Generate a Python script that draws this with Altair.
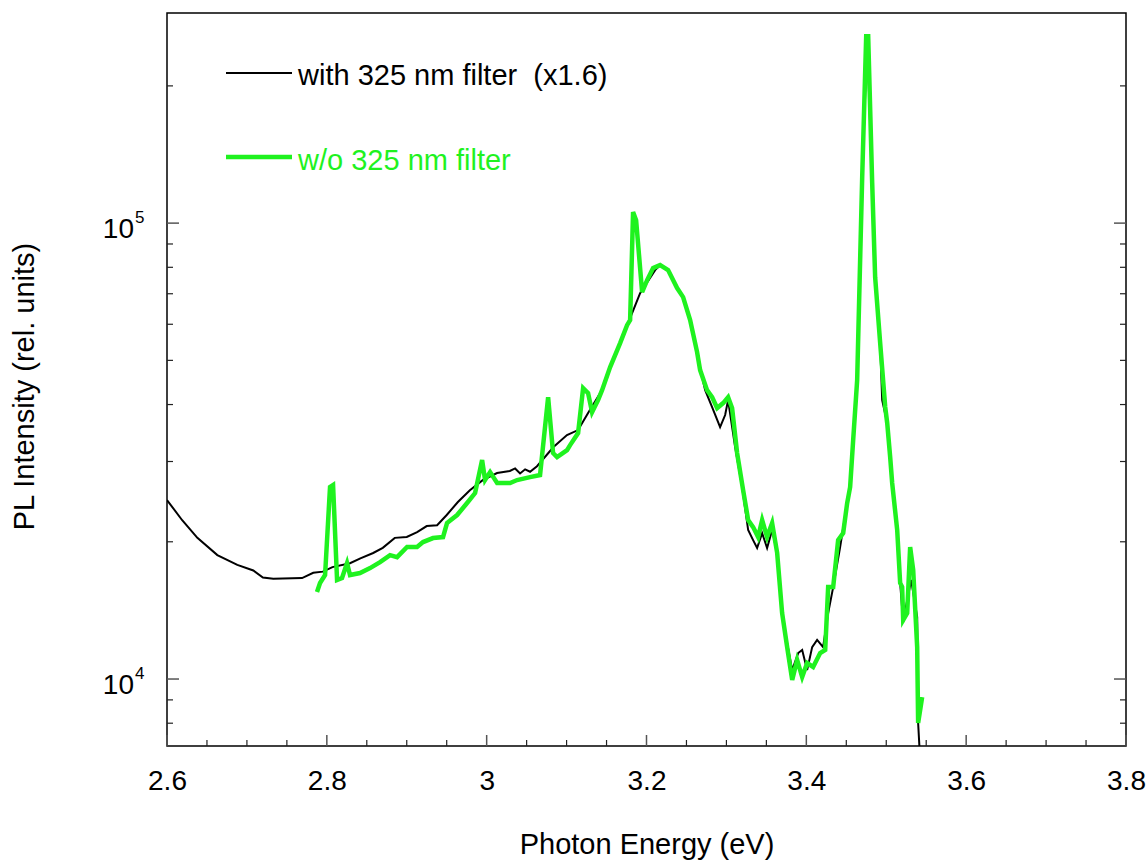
import altair as alt
import pandas as pd

# ---- data ----
black_E = [2.600, 2.619, 2.638, 2.663, 2.688, 2.708, 2.720, 2.733, 2.769, 2.783, 2.795, 2.807,
           2.829, 2.842, 2.858, 2.870, 2.885, 2.900, 2.913, 2.925, 2.938, 2.950, 2.964, 2.979,
           2.995, 3.013, 3.029, 3.0356, 3.0418, 3.0481, 3.0543, 3.063, 3.0836, 3.1005, 3.1144,
           3.1269, 3.1444, 3.1582, 3.1757, 3.1795, 3.1920, 3.2108, 3.2170, 3.2270, 3.2383,
           3.2458, 3.2546, 3.2633, 3.2696, 3.2734, 3.2821, 3.2921, 3.2984, 3.3021, 3.3109,
           3.3197, 3.3272, 3.3334, 3.3384, 3.3447, 3.3509, 3.3572, 3.3635, 3.3697, 3.3760,
           3.3823, 3.3898, 3.3948, 3.4010, 3.4073, 3.4135, 3.4210, 3.4273, 3.4336, 3.4423,
           3.4511, 3.4548, 3.4586, 3.4636, 3.4699, 3.4761, 3.4824, 3.4861, 3.4924, 3.4949,
           3.5012, 3.5074, 3.5137, 3.5174, 3.5212, 3.5262, 3.5312, 3.5387, 3.5399, 3.5424]
black_I = [24700, 22300, 20400, 18700, 17800, 17300, 16700, 16600, 16650, 17100, 17200, 17600,
           17950, 18400, 18900, 19400, 20400, 20500, 21000, 21650, 21750, 22900, 24450, 25950,
           27300, 28300, 28600, 28970, 28250, 28840, 28490, 29300, 32270, 34280, 35160,
           38310, 43020, 50070, 59740, 61900, 70230, 78880, 80900, 78880, 72030,
           68820, 61280, 52130, 45960, 43020, 39500, 35690, 37930, 40900, 32270,
           26370, 21220, 20170, 19380, 20900, 19380, 21220, 18900, 13950, 11990,
           10460, 11400, 11580, 10460, 11750, 12180, 11750, 13950, 15910, 19480,
           24320, 26370, 33430, 45260, 126200, 252000, 122400, 76100, 54560, 40900,
           36420, 26910, 20900, 16240, 13340, 14900, 16490, 13680, 8010, 6650]

green_E = [2.7877, 2.7915, 2.7978, 2.8040, 2.8078, 2.8128, 2.8190, 2.8253, 2.8290, 2.8415,
           2.8541, 2.8666, 2.8791, 2.8879, 2.9004, 2.9129, 2.9204, 2.9329, 2.9454, 2.9504,
           2.9630, 2.9755, 2.9855, 2.9943, 2.9980, 3.0043, 3.0131, 3.0293, 3.0381, 3.0543,
           3.0668, 3.0769, 3.0831, 3.0881, 3.1006, 3.1044, 3.1144, 3.1207, 3.1269, 3.1319,
           3.1394, 3.1444, 3.1545, 3.1670, 3.1757, 3.1795, 3.1832, 3.1870, 3.1945, 3.2008,
           3.2083, 3.2170, 3.2270, 3.2383, 3.2458, 3.2546, 3.2633, 3.2671, 3.2758, 3.2821,
           3.2884, 3.2959, 3.3021, 3.3071, 3.3134, 3.3209, 3.3272, 3.3334, 3.3397, 3.3447,
           3.3509, 3.3572, 3.3635, 3.3697, 3.3760, 3.3823, 3.3885, 3.3948, 3.4010, 3.4085,
           3.4173, 3.4236, 3.4273, 3.4336, 3.4398, 3.4461, 3.4511, 3.4548, 3.4586, 3.4636,
           3.4699, 3.4749, 3.4774, 3.4824, 3.4861, 3.4924, 3.4987, 3.5012, 3.5049, 3.5074,
           3.5137, 3.5174, 3.5199, 3.5212, 3.5262, 3.5299, 3.5337, 3.5387, 3.5399, 3.5424,
           3.5449]
green_I = [15520, 16240, 16910, 26370, 26640, 16490, 16650, 17970, 16910, 17080,
           17510, 18050, 18700, 18510, 19480, 19480, 19970, 20380, 20480, 21980,
           22890, 24320, 25580, 30220, 27320, 28440, 26910, 26910, 27320, 27730,
           28020, 41530, 31300, 30680, 31780, 32590, 34630, 43460, 42380, 38500,
           40900, 43020, 48330, 54560, 59740, 61280, 105700, 101500, 70590, 74990,
           79680, 80900, 78880, 72030, 68820, 61280, 52130, 47600, 43020, 41530,
           39300, 40300, 41530, 39300, 31300, 25970, 22320, 21540, 20480, 22320,
           20480, 21980, 18900, 13950, 11750, 9950, 11010, 10100, 10840, 10630,
           11400, 11580, 15910, 15910, 20170, 20900, 24320, 26370, 33430, 45260,
           126200, 257000, 257000, 122400, 76100, 54560, 39500, 36420, 30680, 26910,
           21220, 16240, 15910, 13470, 13950, 19480, 17340, 11750, 8010, 8550,
           9130]

series_names = ["with 325 nm filter\u00a0\u00a0(x1.6)", "w/o 325 nm filter"]
series_colors = ["#000000", "#1ff21f"]

x_major = [2.6, 2.8, 3.0, 3.2, 3.4, 3.6, 3.8]
x_minor = [2.65, 2.7, 2.75, 2.85, 2.9, 2.95, 3.05, 3.1, 3.15, 3.25, 3.3, 3.35,
           3.45, 3.5, 3.55, 3.65, 3.7, 3.75]
y_major = [1e4, 1e5]
y_minor = [8000, 9000, 20000, 30000, 40000, 50000, 60000, 70000, 80000, 90000, 200000]
y_exp = ["4", "5"]

W, H = 959, 733
FONT = "Liberation Sans"
FS = 29

xscale = alt.Scale(domain=[2.6, 3.8], nice=False, zero=False)
yscale = alt.Scale(type="log", domain=[7130, 289000], nice=False)

df_black = pd.DataFrame({"E": black_E, "I": black_I})
df_green = pd.DataFrame({"E": green_E, "I": green_I})

black_line = alt.Chart(df_black).mark_line(color=series_colors[0], strokeWidth=2, clip=True).encode(
    x=alt.X("E:Q", scale=xscale,
            axis=alt.Axis(values=x_major, format="~g", ticks=False, tickSize=0, domain=False,
                          grid=False, labelFontSize=28, labelFont=FONT, labelColor="black",
                          labelPadding=21, labelFlush=False,
                          title="Photon Energy (eV)", titleFontSize=FS, titleFont=FONT,
                          titleFontWeight="normal", titleColor="black",
                          titleBaseline="alphabetic", titleY=107)),
    y=alt.Y("I:Q", scale=yscale,
            axis=alt.Axis(labels=False, ticks=False, domain=False, grid=False,
                          title="PL Intensity (rel. units)", titleFontSize=FS, titleFont=FONT,
                          titleFontWeight="normal", titleColor="black",
                          titleBaseline="alphabetic", titleX=-134, titleY=373)),
    order="E:Q",
)
green_line = alt.Chart(df_green).mark_line(color=series_colors[1], strokeWidth=4.5, clip=True).encode(
    x=alt.X("E:Q", scale=xscale),
    y=alt.Y("I:Q", scale=yscale),
    order="E:Q",
)

# ticks (inward)
df_xmaj = pd.DataFrame({"E": x_major})
df_xmin = pd.DataFrame({"E": x_minor})
df_ymaj = pd.DataFrame({"I": y_major, "exp": y_exp})
df_ymin = pd.DataFrame({"I": y_minor})

tick_color = "#555555"
xmaj_ticks = alt.Chart(df_xmaj).mark_rule(color=tick_color, strokeWidth=1.5).encode(
    x=alt.X("E:Q", scale=xscale), y=alt.value(H), y2=alt.value(H - 11))
xmin_ticks = alt.Chart(df_xmin).mark_rule(color="#222222", strokeWidth=1.2).encode(
    x=alt.X("E:Q", scale=xscale), y=alt.value(H), y2=alt.value(H - 6))
ymaj_l = alt.Chart(df_ymaj).mark_rule(color=tick_color, strokeWidth=1.5).encode(
    y=alt.Y("I:Q", scale=yscale), x=alt.value(0), x2=alt.value(12))
ymin_l = alt.Chart(df_ymin).mark_rule(color="#222222", strokeWidth=1.2).encode(
    y=alt.Y("I:Q", scale=yscale), x=alt.value(0), x2=alt.value(6))
ymaj_r = alt.Chart(df_ymaj).mark_rule(color=tick_color, strokeWidth=1.5).encode(
    y=alt.Y("I:Q", scale=yscale), x=alt.value(W - 12), x2=alt.value(W))
ymin_r = alt.Chart(df_ymin).mark_rule(color="#222222", strokeWidth=1.2).encode(
    y=alt.Y("I:Q", scale=yscale), x=alt.value(W - 6), x2=alt.value(W))

# y tick labels as 10^n
ylab_base = alt.Chart(df_ymaj).mark_text(text="10", fontSize=28, font=FONT, align="right",
                                         baseline="alphabetic", dx=-33, dy=15, color="black").encode(
    y=alt.Y("I:Q", scale=yscale), x=alt.value(0))
ylab_exp = alt.Chart(df_ymaj).mark_text(fontSize=17, font=FONT, align="left",
                                        baseline="alphabetic", dx=-32, dy=0, color="black").encode(
    y=alt.Y("I:Q", scale=yscale), x=alt.value(0), text="exp:N")

# legend
df_leg = pd.DataFrame({"name": series_names, "color": series_colors})
leg_black_line = alt.Chart(df_leg.iloc[[0]]).mark_rule(color=series_colors[0], strokeWidth=2).encode(
    x=alt.value(59), x2=alt.value(125), y=alt.value(60))
leg_green_line = alt.Chart(df_leg.iloc[[1]]).mark_rule(color=series_colors[1], strokeWidth=4.5).encode(
    x=alt.value(59), x2=alt.value(125), y=alt.value(144))
leg_black_text = alt.Chart(df_leg.iloc[[0]]).mark_text(
    fontSize=FS, font=FONT, align="left", baseline="alphabetic", color=series_colors[0]).encode(
    x=alt.value(131), y=alt.value(72), text="name:N")
leg_green_text = alt.Chart(df_leg.iloc[[1]]).mark_text(
    fontSize=FS, font=FONT, align="left", baseline="alphabetic", color=series_colors[1]).encode(
    x=alt.value(131), y=alt.value(157), text="name:N")

chart = alt.layer(
    black_line, green_line,
    xmaj_ticks, xmin_ticks, ymaj_l, ymin_l, ymaj_r, ymin_r,
    ylab_base, ylab_exp,
    leg_black_line, leg_green_line, leg_black_text, leg_green_text,
).properties(
    width=W, height=H,
    autosize=alt.AutoSizeParams(type="none"),
    padding={"left": 167, "top": 13, "right": 22, "bottom": 117},
    background="white",
).configure_view(
    stroke="black", strokeWidth=1.5
)

chart.save("out.html", embed_options={"renderer": "svg", "actions": False})
